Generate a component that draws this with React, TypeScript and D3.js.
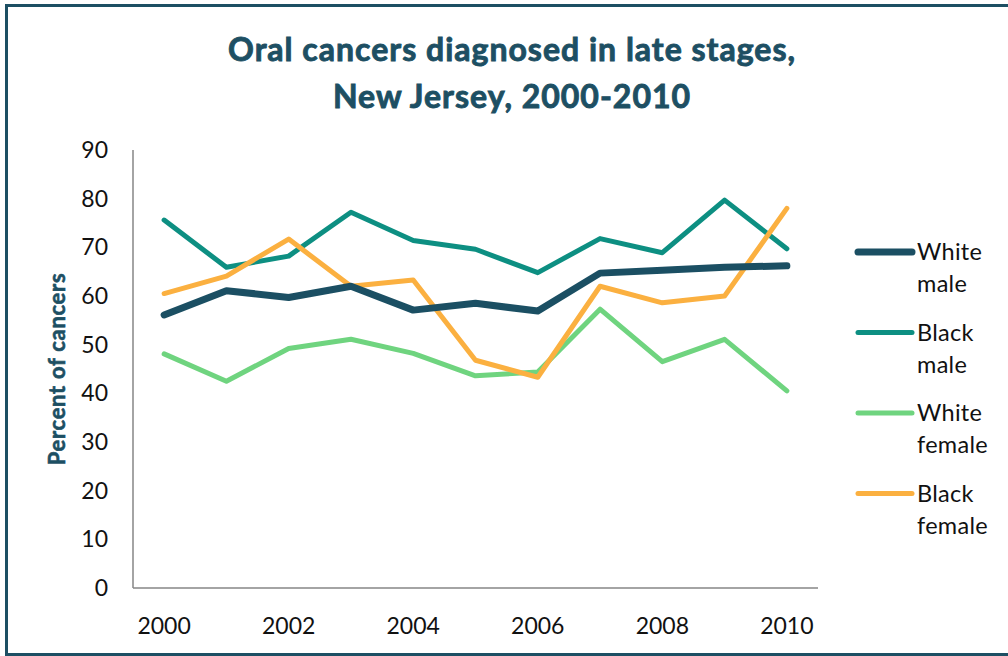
import React from "react";
import * as d3 from "d3";

const years = [2000, 2001, 2002, 2003, 2004, 2005, 2006, 2007, 2008, 2009, 2010];
const whiteMale = [56.1, 61.1, 59.7, 62.0, 57.1, 58.5, 56.9, 64.7, 65.3, 65.9, 66.2];
const blackMale = [75.6, 65.9, 68.2, 77.2, 71.4, 69.6, 64.8, 71.8, 68.9, 79.7, 69.7];
const whiteFemale = [48.1, 42.5, 49.2, 51.1, 48.2, 43.6, 44.4, 57.3, 46.5, 51.1, 40.5];
const blackFemale = [60.5, 64.1, 71.7, 62.0, 63.3, 46.8, 43.3, 62.0, 58.6, 60.0, 78.0];
const yTicks = [0, 10, 20, 30, 40, 50, 60, 70, 80, 90];
const xTickLabels = [2000, 2002, 2004, 2006, 2008, 2010];

const series = [
  { name: ["White", "male"], values: whiteMale, color: "#1b4f63", width: 7 },
  { name: ["Black", "male"], values: blackMale, color: "#0d8f82", width: 5 },
  { name: ["White", "female"], values: whiteFemale, color: "#6fd47f", width: 5 },
  { name: ["Black", "female"], values: blackFemale, color: "#fbb040", width: 5 },
];

const FONT = "Lato, 'Open Sans', sans-serif";
const TEAL = "#1d4f63";

export default function App() {
  const left = 133, right = 818, top = 150, bottom = 588;
  const x = d3.scaleBand<number>().domain(years).range([left, right]);
  const cx = (yr: number) => (x(yr) as number) + x.bandwidth() / 2;
  const y = d3.scaleLinear().domain([0, 90]).range([bottom, top]);
  const drawOrder = [1, 2, 3, 0];

  return (
    <svg width={1008} height={656} style={{ position: "absolute", left: 0, top: 0 }}>
      <rect x={0} y={0} width={1008} height={656} fill="#fff" />
      <rect x={6.5} y={5.5} width={1010} height={649} fill="none" stroke={TEAL} strokeWidth={3} />
      <g fontFamily={FONT} fontWeight="bold" fontSize={32} fill={TEAL} stroke={TEAL} strokeWidth={0.9} letterSpacing={1} textAnchor="middle">
        <text x={512} y={61}>Oral cancers diagnosed in late stages,</text>
        <text x={512} y={108}>New Jersey, 2000-2010</text>
      </g>
      <text
        transform={`translate(65,${(top + bottom) / 2}) rotate(-90)`}
        textAnchor="middle"
        fontFamily={FONT}
        fontWeight="bold"
        fontSize={22}
        fill={TEAL}
        stroke={TEAL}
        strokeWidth={0.6}
        letterSpacing={0.7}
      >
        Percent of cancers
      </text>
      {yTicks.map((t) => (
        <text key={t} x={108} y={y(t)} dy="0.35em" textAnchor="end" fontFamily={FONT} fontSize={23} fill="#111">
          {t}
        </text>
      ))}
      {xTickLabels.map((t) => (
        <text key={t} x={cx(t)} y={626} dy="0.35em" textAnchor="middle" fontFamily={FONT} fontSize={23} fill="#111">
          {t}
        </text>
      ))}
      <line x1={left} x2={left} y1={top} y2={bottom} stroke="#868686" strokeWidth={1.5} />
      <line x1={left} x2={right} y1={bottom} y2={bottom} stroke="#868686" strokeWidth={1.5} />
      {drawOrder.map((i) => {
        const s = series[i];
        const line = d3
          .line<number>()
          .x((_, j) => cx(years[j]))
          .y((v) => y(v));
        return (
          <path
            key={i}
            d={line(s.values) || ""}
            fill="none"
            stroke={s.color}
            strokeWidth={s.width}
            strokeLinejoin="round"
            strokeLinecap="round"
          />
        );
      })}
      {series.map((s, i) => {
        const ly = 252 + i * 80.5;
        return (
          <g key={i}>
            <line x1={858} x2={912} y1={ly} y2={ly} stroke={s.color} strokeWidth={s.width} strokeLinecap="round" />
            <text x={917} y={ly} dy="0.35em" fontFamily={FONT} fontSize={23.5} fill="#111" letterSpacing={0.3}>
              {s.name[0]}
            </text>
            <text x={917} y={ly + 32} dy="0.35em" fontFamily={FONT} fontSize={23.5} fill="#111" letterSpacing={0.3}>
              {s.name[1]}
            </text>
          </g>
        );
      })}
    </svg>
  );
}
